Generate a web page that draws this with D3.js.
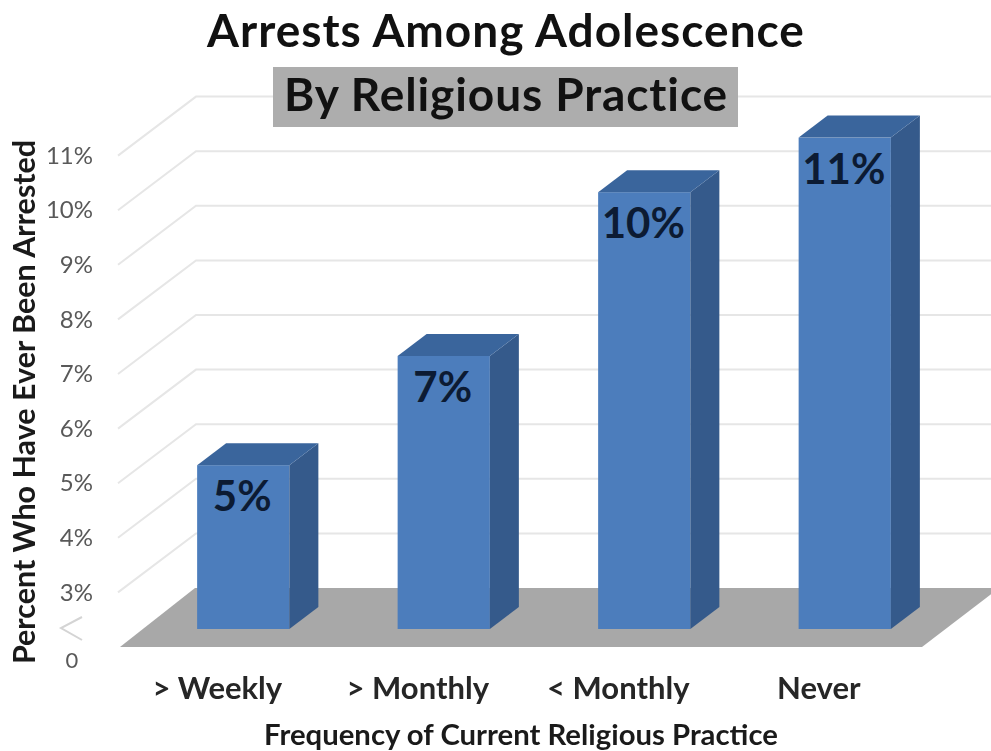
<!DOCTYPE html>
<html>
<head>
<meta charset="utf-8">
<title>Arrests Among Adolescence</title>
<script src="https://cdnjs.cloudflare.com/ajax/libs/d3/7.8.5/d3.min.js"></script>
<style>
html, body { margin: 0; padding: 0; background: #fff; overflow: hidden; }
svg { display: block; filter: blur(0.6px); }
text { font-family: Lato, "Open Sans", sans-serif; }
</style>
</head>
<body>
<svg id="chart" width="991" height="751"></svg>
<script>
"use strict";

var categories = ["> Weekly", "> Monthly", "< Monthly", "Never"];
var percents = [5, 7, 10, 11];
var tick_values = [3, 4, 5, 6, 7, 8, 9, 10, 11];
var axis_floor = 2; //the axis is broken, this level sits on the floor but is labelled 0

var width = 991, height = 751,
	floor_left = 120, floor_right = 922,
	floor_y = 647,
	depth_x = 76, depth_y = 59,   //how far back the walls go
	bar_dx = 23, bar_dy = 18,     //bars stand a bit back from the floor edge
	side_dx = 29, side_dy = 22;   //depth of each bar

var svg = d3.select("#chart");

var x = d3.scaleBand()
	.domain(categories)
	.range([floor_left, floor_right])
	.paddingInner(0.54)
	.paddingOuter(0.27);

var y = d3.scaleLinear()
	.domain([axis_floor, 11])
	.range([floor_y, floor_y - 9 * 54.6]);

//gridlines run up the left wall then along the back
svg.append("g").selectAll("path")
	.data(tick_values)
	.join("path")
		.attr("d", function(d) {
			return "M" + (floor_left - 2) + "," + y(d) + " L" + (floor_left + depth_x) + "," + (y(d) - depth_y) + " H" + (width + 5);
		})
		.attr("fill", "none")
		.attr("stroke", "#e6e6e6")
		.attr("stroke-width", 2);

//floor
svg.append("path")
	.attr("d", "M" + floor_left + "," + floor_y + " L" + floor_right + "," + floor_y +
		" L" + (floor_right + depth_x + 1) + "," + (floor_y - depth_y) +
		" L" + (floor_left + depth_x - 1) + "," + (floor_y - depth_y) + " Z")
	.attr("fill", "#a8a8a8");

//bars
var bars = svg.append("g").selectAll("g")
	.data(categories)
	.join("g");

function barLeft(i) { return x(categories[i]) + bar_dx; }
function barTop(i) { return y(percents[i]) - bar_dy; }
var bar_bottom = y(axis_floor) - bar_dy;

bars.append("rect")
	.attr("x", function(d, i) { return barLeft(i); })
	.attr("y", function(d, i) { return barTop(i); })
	.attr("width", x.bandwidth())
	.attr("height", function(d, i) { return bar_bottom - barTop(i); })
	.attr("fill", "#4c7dbc");

bars.append("path")
	.attr("d", function(d, i) {
		var r = barLeft(i) + x.bandwidth(), t = barTop(i);
		return "M" + r + "," + t + " l" + side_dx + "," + (-side_dy) +
			" V" + (bar_bottom - side_dy) + " L" + r + "," + bar_bottom + " Z";
	})
	.attr("fill", "#355a8b");

bars.append("path")
	.attr("d", function(d, i) {
		var l = barLeft(i), t = barTop(i);
		return "M" + l + "," + t + " l" + side_dx + "," + (-side_dy) +
			" h" + x.bandwidth() + " l" + (-side_dx) + "," + side_dy + " Z";
	})
	.attr("fill", "#3a659c");

bars.append("text")
	.attr("x", function(d, i) { return barLeft(i) + x.bandwidth() / 2 - 1; })
	.attr("y", function(d, i) { return barTop(i) + 46; })
	.attr("text-anchor", "middle")
	.attr("font-size", 42)
	.attr("font-weight", 700)
	.attr("fill", "#0c1b33")
	.text(function(d, i) { return percents[i] + "%"; });

//y axis
var y_axis = svg.append("g")
	.attr("transform", "translate(100,0)")
	.call(d3.axisLeft(y)
		.tickValues(tick_values)
		.tickSize(0)
		.tickPadding(7)
		.tickFormat(function(d) { return d + "%"; }));
y_axis.select(".domain").remove();
y_axis.selectAll("text")
	.attr("font-size", 24)
	.attr("font-family", "Lato, 'Open Sans', sans-serif")
	.attr("fill", "#595959");

svg.append("text")
	.attr("x", 72)
	.attr("y", y(axis_floor) + 21)
	.attr("text-anchor", "middle")
	.attr("font-size", 22)
	.attr("fill", "#595959")
	.text("0");

//axis break mark
svg.append("path")
	.attr("d", "M82," + (y(axis_floor) - 30) + " L61," + (y(axis_floor) - 19) + " L82," + (y(axis_floor) - 7))
	.attr("fill", "none")
	.attr("stroke", "#d4d4d4")
	.attr("stroke-width", 2);

//x axis
var x_axis = svg.append("g")
	.attr("transform", "translate(-3," + (floor_y + 30) + ")")
	.call(d3.axisBottom(x).tickSize(0).tickPadding(0));
x_axis.select(".domain").remove();
x_axis.selectAll("text")
	.attr("font-size", 31)
	.attr("font-weight", 700)
	.attr("font-family", "Lato, 'Open Sans', sans-serif")
	.attr("fill", "#262626");

//titles
svg.append("text")
	.attr("x", 506)
	.attr("y", 47)
	.attr("text-anchor", "middle")
	.attr("font-size", 46)
	.attr("letter-spacing", 1)
	.attr("font-weight", 700)
	.attr("fill", "#111")
	.text("Arrests Among Adolescence");

svg.append("rect")
	.attr("x", 273)
	.attr("y", 67)
	.attr("width", 465)
	.attr("height", 60)
	.attr("fill", "#adadad");

svg.append("text")
	.attr("x", 506)
	.attr("y", 111)
	.attr("text-anchor", "middle")
	.attr("font-size", 46)
	.attr("letter-spacing", 0.9)
	.attr("font-weight", 700)
	.attr("fill", "#111")
	.text("By Religious Practice");

svg.append("text")
	.attr("transform", "translate(35,402) rotate(-90)")
	.attr("text-anchor", "middle")
	.attr("font-size", 30.5)
	.attr("font-weight", 700)
	.attr("fill", "#1a1a1a")
	.text("Percent Who Have Ever Been Arrested");

svg.append("text")
	.attr("x", 521)
	.attr("y", 745)
	.attr("text-anchor", "middle")
	.attr("font-size", 29.3)
	.attr("font-weight", 700)
	.attr("fill", "#1a1a1a")
	.text("Frequency of Current Religious Practice");
</script>
</body>
</html>
